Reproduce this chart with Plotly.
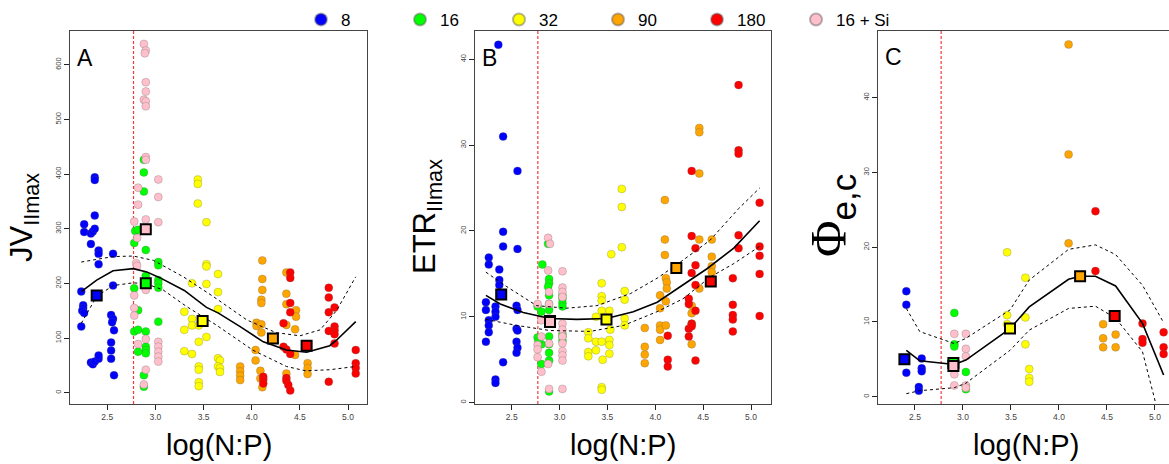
import plotly.graph_objects as go

# ---------------- data ----------------
GROUPS = ["8", "16", "32", "90", "180", "16 + Si"]
COLORS = ["#0000FF", "#00FF00", "#FFFF00", "#FFA500", "#FF0000", "#FFC0CB"]
NP_16 = 2.7726  # ln(16) reference line

# Panel A : JV_IImax  (x = log(N:P), y)
A_8 = [(2.23,185),(2.23,121),(2.25,160),(2.25,155),(2.24,150),(2.26,146),(2.26,308),(2.26,294),(2.33,291),(2.33,272),
       (2.35,295),(2.37,300),(2.37,324),(2.37,394),(2.37,389),(2.41,260),(2.41,254),(2.41,235),(2.33,55),(2.35,52),
       (2.37,57),(2.41,62),(2.41,68),(2.56,254),(2.56,196),(2.54,142),(2.56,135),(2.55,129),(2.57,114),(2.54,92),
       (2.54,77),(2.54,62),(2.57,32)]
A_16 = [(2.88,426),(2.88,403),(2.88,368),(2.79,296),(2.82,298),(2.78,274),(2.90,261),(3.03,239),(3.03,233),(3.03,206),
        (3.03,200),(3.03,192),(2.90,214),(2.78,191),(2.82,151),(3.03,130),(2.78,112),(2.82,115),(2.90,112),(2.90,84),
        (2.90,78),(2.90,72),(2.82,75),(2.88,32),(2.88,11)]
A_32 = [(3.44,390),(3.44,382),(3.44,346),(3.53,312),(3.53,235),(3.53,231),(3.38,200),(3.53,199),(3.65,217),(3.65,184),
        (3.30,148),(3.38,135),(3.38,123),(3.45,123),(3.65,153),(3.30,115),(3.53,102),(3.45,93),(3.30,76),(3.38,71),
        (3.65,63),(3.67,59),(3.65,48),(3.67,45),(3.67,38),(3.45,48),(3.45,42),(3.45,19),(3.45,12)]
A_90 = [(4.11,242),(4.11,208),(4.11,188),(4.10,170),(4.10,164),(4.36,220),(4.36,181),(4.36,162),(4.46,151),(4.46,139),
        (4.45,116),(4.36,124),(4.05,128),(4.05,122),(4.10,125),(4.10,110),(4.04,78),(4.04,59),(4.09,40),(4.09,26),
        (4.11,10),(3.88,48),(3.88,39),(3.88,31),(3.88,23),(4.36,35),(4.45,69),(4.58,54),(4.58,45),(4.58,34)]
A_180 = [(4.40,220),(4.40,210),(4.40,164),(4.40,147),(4.33,127),(4.33,84),(4.36,79),(4.40,71),(4.12,29),(4.12,24),
         (4.12,17),(4.36,27),(4.36,22),(4.38,14),(4.40,4),(4.80,192),(4.80,174),(4.86,156),(4.80,147),(4.86,121),
         (4.86,114),(4.86,107),(4.80,113),(4.86,90),(4.80,20),(5.08,78),(5.08,54),(5.08,45),(5.08,35)]
A_16Si = [(2.88,638),(2.90,626),(2.89,621),(2.90,568),(2.90,551),(2.88,536),(2.90,533),(2.90,524),(2.90,431),(2.90,426),
          (2.82,375),(3.03,390),(2.82,344),(3.03,358),(2.78,313),(2.90,317),(3.03,312),(2.81,283),(2.80,237),(2.81,232),
          (2.78,178),(2.78,155),(2.78,141),(2.90,188),(2.82,89),(2.90,98),(3.03,93),(3.03,84),(3.03,75),(3.03,66),
          (3.03,57),(2.90,42),(2.88,15)]
A_means = [(2.39,178),(2.90,200),(3.49,131),(4.22,99),(4.57,86),(2.90,299)]
A_fit = [(2.23,185),(2.39,206),(2.56,223),(2.77,227),(2.91,221),(3.05,210),(3.30,187),(3.53,156),(3.65,146),
         (3.88,121),(4.12,93),(4.36,78),(4.57,74),(4.81,86),(4.88,96),(5.08,130)]
A_upper = [(2.23,239),(2.56,249),(2.77,250),(2.98,242),(3.29,212),(3.60,176),(3.95,133),(4.25,110),(4.50,104),
           (4.71,115),(4.88,150),(5.08,212)]
A_lower = [(2.23,127),(2.39,176),(2.56,196),(2.77,201),(2.91,199),(3.08,188),(3.32,158),(3.63,124),(4.01,78),
           (4.36,48),(4.56,40),(4.81,42),(5.08,48)]

# Panel B : ETR_IImax
B_8 = [(2.36,41.7),(2.41,31.0),(2.56,27.0),(2.41,19.9),(2.41,18.2),(2.56,17.9),(2.26,16.9),(2.26,16.1),(2.37,15.5),
       (2.37,14.3),(2.37,13.7),(2.23,11.7),(2.23,10.8),(2.33,11.2),(2.33,10.6),(2.33,10.0),(2.55,11.3),(2.56,10.8),
       (2.26,9.6),(2.26,9.0),(2.26,8.2),(2.55,8.6),(2.56,8.4),(2.23,7.1),(2.55,7.1),(2.56,6.4),(2.55,5.8),(2.41,4.7),
       (2.33,2.7),(2.33,2.3)]
B_16 = [(2.88,18.5),(2.82,16.1),(2.89,14.4),(2.89,13.9),(2.88,13.5),(2.89,12.5),(3.03,12.5),(3.03,12.1),(3.03,11.6),
        (3.03,11.2),(2.77,11.2),(2.81,10.6),(2.89,11.5),(2.89,10.8),(2.77,7.6),(2.81,6.8),(2.89,7.7),(2.89,6.8),
        (3.03,7.7),(3.03,7.2),(2.89,5.8),(2.89,4.9),(2.81,4.5),(2.89,1.3),(2.78,7.1),(3.03,8.0)]
B_32 = [(3.65,24.9),(3.65,22.8),(3.54,17.3),(3.65,18.1),(3.44,13.9),(3.44,12.4),(3.44,11.9),(3.68,13.0),(3.68,12.0),
        (3.44,10.7),(3.52,10.7),(3.38,10.0),(3.68,9.8),(3.68,9.0),(3.53,8.5),(3.30,8.2),(3.30,7.5),(3.30,5.9),
        (3.30,5.4),(3.38,7.1),(3.38,6.1),(3.44,7.1),(3.52,7.3),(3.52,6.7),(3.52,5.7),(3.45,5.0),(3.44,1.8),(3.44,1.5)]
B_90 = [(4.46,32.0),(4.46,31.5),(4.46,26.7),(4.10,23.6),(4.10,19.0),(4.10,17.2),(4.46,19.0),(4.59,19.0),(4.59,17.0),
        (4.59,15.9),(4.59,15.2),(4.11,14.5),(4.12,14.0),(4.12,13.3),(4.05,12.5),(4.11,11.8),(4.05,11.0),(4.46,13.3),
        (4.38,11.3),(4.38,10.4),(3.89,8.7),(4.05,9.0),(4.05,8.5),(4.05,7.3),(4.11,9.0),(3.89,6.5),(3.89,5.6),
        (3.89,4.6),(4.38,6.8),(4.38,9.2)]
B_180 = [(4.87,37.0),(4.87,29.4),(4.87,29.0),(4.38,27.0),(5.09,23.3),(4.38,19.4),(4.42,18.0),(4.87,19.5),(4.87,18.0),
         (5.09,18.2),(5.09,17.1),(5.09,15.0),(4.42,16.0),(4.38,15.1),(4.42,13.7),(4.81,14.5),(4.35,12.1),(4.35,11.5),
         (4.42,10.7),(4.38,9.2),(4.35,8.6),(4.38,8.9),(4.13,7.8),(4.35,7.7),(4.42,4.9),(4.13,5.0),(4.13,4.2),
         (4.81,11.4),(4.81,10.2),(4.81,9.7),(4.81,8.3),(5.09,10.1)]
B_16Si = [(2.88,19.2),(2.90,18.5),(2.88,15.4),(3.03,15.3),(3.03,13.4),(3.03,12.9),(3.03,12.3),(2.89,12.9),(2.77,11.5),
          (2.89,11.5),(2.81,9.6),(2.89,9.8),(3.03,9.2),(3.03,8.5),(3.03,7.7),(2.81,7.7),(2.89,6.9),(3.03,6.9),
          (3.03,6.0),(3.03,5.5),(3.03,4.9),(2.77,6.7),(2.77,6.2),(2.77,5.3),(2.81,3.6),(2.88,4.5),(2.89,1.6),(3.03,1.6)]
B_means = [(2.39,12.6),(2.90,9.5),(3.49,9.7),(4.22,15.7),(4.58,14.1),(2.90,9.4)]
B_fit = [(2.23,12.5),(2.38,11.5),(2.62,10.5),(2.90,9.8),(3.18,9.7),(3.49,9.8),(3.77,10.6),(4.02,11.7),(4.26,13.5),
         (4.54,15.6),(4.82,18.0),(5.09,21.2)]
B_upper = [(2.23,15.2),(2.45,13.5),(2.76,11.3),(3.07,11.0),(3.39,11.3),(3.74,12.7),(4.02,14.5),(4.29,16.6),
           (4.57,18.9),(4.87,22.6),(5.09,25.0)]
B_lower = [(2.23,9.7),(2.55,9.0),(2.90,8.4),(3.32,8.3),(3.67,9.0),(4.02,10.6),(4.29,12.1),(4.57,14.6),(4.82,16.2),
           (5.09,18.2)]

# Panel C : Phi_e,c
C_8 = [(2.41,14.1),(2.41,12.3),(2.57,5.1),(2.57,3.8),(2.57,3.4),(2.41,3.2),(2.54,1.3),(2.54,0.8)]
C_16 = [(2.91,11.2),(2.91,7.0),(2.91,6.7),(3.03,3.3),(3.03,1.4),(3.03,1.0)]
C_32 = [(3.46,19.3),(3.65,15.9),(3.46,10.9),(3.46,9.7),(3.65,10.6),(3.65,7.0),(3.69,3.7),(3.69,2.5),(3.69,2.0)]
C_90 = [(4.10,47.1),(4.10,32.4),(4.10,20.5),(4.46,9.7),(4.46,7.8),(4.46,6.6),(4.59,8.3),(4.59,6.6)]
C_180 = [(4.38,24.8),(4.38,16.8),(4.87,9.8),(4.87,7.7),(4.87,7.2),(5.09,8.6),(5.09,6.6),(5.09,5.7)]
C_16Si = [(2.91,8.4),(3.03,8.4),(3.03,6.4),(3.03,5.4),(2.91,3.0),(2.91,1.5),(3.03,1.5),(3.03,1.2)]
C_means = [(2.39,5.0),(2.90,4.5),(3.49,9.1),(4.22,16.1),(4.58,10.8),(2.90,4.1)]
C_fit = [(2.41,6.2),(2.55,4.8),(2.91,4.3),(3.03,4.9),(3.49,9.1),(3.69,12.0),(4.10,15.7),(4.22,16.1),(4.38,16.1),
         (4.59,14.8),(4.87,9.8),(5.09,2.9)]
C_upper = [(2.41,11.8),(2.55,8.7),(2.91,7.1),(3.03,7.8),(3.49,11.6),(3.69,15.6),(4.10,19.7),(4.38,20.3),(4.59,19.0),
           (4.87,14.9),(5.09,9.9)]
C_lower = [(2.41,0.4),(2.55,0.8),(2.91,1.2),(3.03,1.8),(3.49,6.2),(3.69,8.9),(4.10,11.8),(4.38,12.1),(4.59,10.5),
           (4.87,6.0),(5.09,-5.0)]

X_TICKS = [2.5, 3.0, 3.5, 4.0, 4.5, 5.0]
A_YTICKS = [0, 100, 200, 300, 400, 500, 600]
B_YTICKS = [0, 10, 20, 30, 40]
C_YTICKS = [0, 10, 20, 30, 40]

# ---------------- figure ----------------
W, H = 1169, 464
FONT = "Liberation Sans, Arial, Helvetica, sans-serif"

def px_x(p):
    return p / W

def px_y(p):
    return 1 - p / H

panels = [
    dict(name="A", pts=[A_8, A_16, A_32, A_90, A_180, A_16Si], means=A_means, fit=A_fit, up=A_upper, lo=A_lower,
         xa="x", ya="y", dom=(70, 367), xr=[2.113, 5.197], yr=[-20.7, 661.7], yt=A_YTICKS),
    dict(name="B", pts=[B_8, B_16, B_32, B_90, B_180, B_16Si], means=B_means, fit=B_fit, up=B_upper, lo=B_lower,
         xa="x2", ya="y2", dom=(474.7, 771), xr=[2.113, 5.209], yr=[-0.16, 43.3], yt=B_YTICKS),
    dict(name="C", pts=[C_8, C_16, C_32, C_90, C_180, C_16Si], means=C_means, fit=C_fit, up=C_upper, lo=C_lower,
         xa="x3", ya="y3", dom=(878.3, 1169), xr=[2.118, 5.146], yr=[-0.98, 48.9], yt=C_YTICKS),
]

fig = go.Figure()
draw_order = [0, 1, 5, 2, 3, 4]
for pi, p in enumerate(panels):
    # reference line at ln(16), spanning the full y range of the panel
    fig.add_trace(go.Scatter(
        x=[NP_16, NP_16], y=p["yr"], mode="lines", xaxis=p["xa"], yaxis=p["ya"], showlegend=False,
        line=dict(color="#F23A3A", width=1.2, dash="3px,2px"), hoverinfo="skip"))
    for gi in draw_order:
        pts = p["pts"][gi]
        fig.add_trace(go.Scatter(
            x=[a for a, b in pts], y=[b for a, b in pts], mode="markers",
            xaxis=p["xa"], yaxis=p["ya"], name=GROUPS[gi], legendgroup=GROUPS[gi],
            showlegend=(pi == 0), legendrank=gi + 1,
            marker=dict(color=COLORS[gi], size=8, line=dict(color="rgba(90,90,90,0.45)", width=0.6)),
            hoverinfo="skip"))
    for key, dash, wdt in [("up", "3px,3px", 1.0), ("lo", "3px,3px", 1.0), ("fit", "solid", 1.6)]:
        line = p[key]
        fig.add_trace(go.Scatter(
            x=[a for a, b in line], y=[b for a, b in line], mode="lines",
            xaxis=p["xa"], yaxis=p["ya"], showlegend=False,
            line=dict(color="black", width=wdt, dash=dash), hoverinfo="skip"))
    m = p["means"]
    fig.add_trace(go.Scatter(
        x=[a for a, b in m], y=[b for a, b in m], mode="markers",
        xaxis=p["xa"], yaxis=p["ya"], showlegend=False,
        marker=dict(symbol="square", size=10, color=COLORS, line=dict(color="black", width=2)),
        hoverinfo="skip"))

ydom = [px_y(404), px_y(31)]
axis_common = dict(showgrid=False, zeroline=False, showline=True, linecolor="#444", linewidth=1.2,
                   ticks="outside", ticklen=5, tickcolor="#222", tickwidth=1)
layout = dict(width=W, height=H, margin=dict(l=0, r=0, t=0, b=0, pad=0, autoexpand=False),
              plot_bgcolor="white", paper_bgcolor="white", font=dict(family=FONT, color="black"))
for p in panels:
    xk = "xaxis" + p["xa"][1:]
    yk = "yaxis" + p["ya"][1:]
    layout[xk] = dict(axis_common, domain=[px_x(p["dom"][0]), px_x(p["dom"][1])], range=p["xr"],
                      tickvals=X_TICKS, ticktext=["%.1f" % v for v in X_TICKS], mirror=True,
                      tickfont=dict(size=8.5, color="#444"), anchor=p["ya"])
    layout[yk] = dict(axis_common, domain=ydom, range=p["yr"], tickvals=p["yt"],
                      tickangle=-90, tickfont=dict(size=7.5, color="#444"), anchor=p["xa"],
                      mirror=(p["name"] != "C"))
fig.update_layout(**layout)

fig.update_layout(legend=dict(orientation="h", x=px_x(301), y=px_y(2), xanchor="left", yanchor="top",
                              entrywidth=54, entrywidthmode="pixels",
                              font=dict(size=17, family=FONT, color="black"),
                              bgcolor="rgba(0,0,0,0)", borderwidth=0, itemsizing="constant",
                              traceorder="normal"))

ann = []
# panel letters
for txt, x, y in [("A", 85, 58), ("B", 489, 58), ("C", 893, 57)]:
    ann.append(dict(text=txt, x=px_x(x), y=px_y(y), xref="paper", yref="paper", showarrow=False,
                    xanchor="center", yanchor="middle", font=dict(size=23, color="black", family=FONT)))
# x titles
for x in [218.5, 622.8, 1026]:
    ann.append(dict(text="log(N:P)", x=px_x(x), y=px_y(445), xref="paper", yref="paper", showarrow=False,
                    xanchor="center", yanchor="middle", font=dict(size=29, color="black", family=FONT)))
# y titles
ann.append(dict(text="JV<sub>IImax</sub>", x=px_x(24), y=px_y(218), xref="paper", yref="paper", showarrow=False,
                textangle=-90, xanchor="center", yanchor="middle", font=dict(size=31, color="black", family=FONT)))
ann.append(dict(text="ETR<sub>IImax</sub>", x=px_x(427), y=px_y(217), xref="paper", yref="paper", showarrow=False,
                textangle=-90, xanchor="center", yanchor="middle", font=dict(size=31, color="black", family=FONT)))
ann.append(dict(text="<span style=\"font-family:'Liberation Serif'\">Φ</span><sub>e,c</sub>", x=px_x(832),
                y=px_y(216), xref="paper", yref="paper", showarrow=False, textangle=-90,
                xanchor="center", yanchor="middle", font=dict(size=50, color="black", family=FONT)))
fig.update_layout(annotations=ann)

fig.write_html("out.html", config={"displayModeBar": False},
               post_script="document.body.style.margin='0px';")
